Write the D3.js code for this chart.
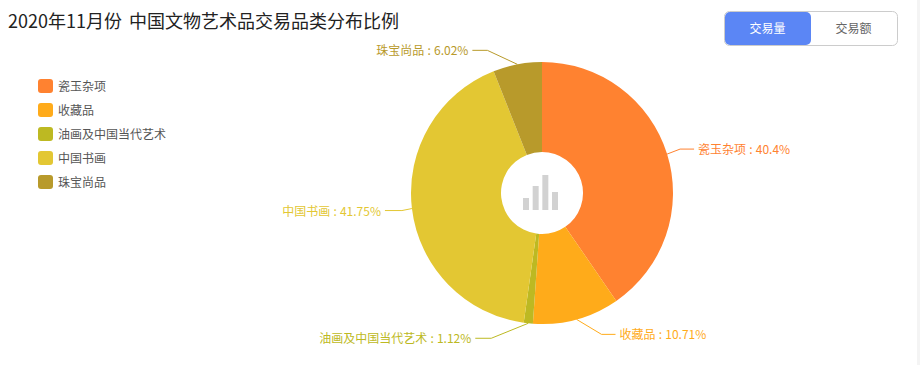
<!DOCTYPE html>
<html>
<head>
<meta charset="utf-8">
<script src="https://cdn.jsdelivr.net/npm/d3@7"></script>
<style>
  html, body { margin: 0; padding: 0; background: #fff; overflow: hidden; }
  text { font-family: "Noto Sans CJK SC", "Noto Sans", sans-serif; }
</style>
</head>
<body>
<svg id="chart" width="920" height="365"></svg>
<script>
const categories = ['瓷玉杂项', '收藏品', '油画及中国当代艺术', '中国书画', '珠宝尚品']
const shares = [40.4, 10.71, 1.12, 41.75, 6.02]
const colors = ['#ff8230', '#ffab1a', '#bdb922', '#e3c733', '#b89a2b']
const buttonLabels = ['交易量', '交易额']
const iconBars = [12, 24, 35, 18]

const width = 920
const height = 365
const cx = 542
const cy = 193
const outerRadius = 131
const innerRadius = 41

// elbow of each leader line, relative to where it leaves the slice
const elbowOffsets = [[13, -5], [25, 15], [-37, 15], [-10, 2], [-30, -14]]
const tailLength = [14, 14, 16, 17, 15]

const svg = d3.select('#chart')

svg.append('rect')
  .attr('x', 917)
  .attr('y', 0)
  .attr('width', width - 917)
  .attr('height', height)
  .attr('fill', '#f4f4f4')

svg.append('text')
  .attr('x', 8)
  .attr('y', 28)
  .attr('fill', '#222')
  .style('font-size', '18px')
  .style('word-spacing', '3px')
  .text('2020年11月份 中国文物艺术品交易品类分布比例')

// Legend
const legendY = d3.scalePoint().domain(categories).range([86, 182])

const legend = svg.append('g')
  .selectAll('g')
  .data(categories)
  .join('g')
  .attr('transform', d => `translate(38,${legendY(d)})`)

legend.append('rect')
  .attr('y', -7)
  .attr('width', 15)
  .attr('height', 14)
  .attr('rx', 3)
  .attr('fill', (d, i) => colors[i])

legend.append('text')
  .attr('x', 20)
  .attr('y', 4.5)
  .attr('fill', '#555')
  .style('font-size', '12px')
  .text(d => d)

// Pie
const pie = d3.pie().sort(null).value(d => d)
const slices = pie(shares)
const arc = d3.arc().innerRadius(innerRadius).outerRadius(outerRadius)
const edge = d3.arc().innerRadius(outerRadius).outerRadius(outerRadius)

const g = svg.append('g').attr('transform', `translate(${cx},${cy})`)

g.selectAll('path.slice')
  .data(slices)
  .join('path')
  .attr('class', 'slice')
  .attr('d', arc)
  .attr('fill', (d, i) => colors[i])

// Leader lines and labels
const line = d3.line()

slices.forEach(function (d, i) {
  const start = edge.centroid(d)
  const elbow = [start[0] + elbowOffsets[i][0], start[1] + elbowOffsets[i][1]]
  const dir = elbowOffsets[i][0] > 0 ? 1 : -1
  const end = [elbow[0] + dir * tailLength[i], elbow[1]]

  g.append('path')
    .attr('d', line([start, elbow, end]))
    .attr('fill', 'none')
    .attr('stroke', colors[i])
    .attr('stroke-width', 1)

  g.append('text')
    .attr('x', end[0] + dir * 4)
    .attr('y', end[1] + 5)
    .attr('text-anchor', dir > 0 ? 'start' : 'end')
    .attr('fill', colors[i])
    .style('font-size', '12px')
    .style('word-spacing', '0.5px')
    .text(`${categories[i]} : ${shares[i]}%`)
})

// Centre icon
const iconX = d3.scaleBand().domain(d3.range(iconBars.length)).range([-19, 16]).paddingInner(0.38).paddingOuter(0)
const iconY = d3.scaleLinear().domain([0, 35]).range([17, -18])

g.append('g')
  .selectAll('rect')
  .data(iconBars)
  .join('rect')
  .attr('x', (d, i) => iconX(i))
  .attr('y', d => iconY(d))
  .attr('width', iconX.bandwidth())
  .attr('height', d => iconY(0) - iconY(d))
  .attr('fill', '#d2d2d2')

// Toggle buttons
const buttons = svg.append('g').attr('transform', 'translate(724.5,11.5)')

buttons.append('rect')
  .attr('width', 173)
  .attr('height', 34)
  .attr('rx', 5)
  .attr('fill', '#fff')
  .attr('stroke', '#ccc')

buttons.append('rect')
  .attr('x', 0.5)
  .attr('y', 0.5)
  .attr('width', 86)
  .attr('height', 33)
  .attr('rx', 5)
  .attr('fill', '#5b86f5')

buttons.selectAll('text')
  .data(buttonLabels)
  .join('text')
  .attr('x', (d, i) => 43 + i * 86)
  .attr('y', 21.5)
  .attr('text-anchor', 'middle')
  .attr('fill', (d, i) => i === 0 ? '#fff' : '#666')
  .style('font-size', '12px')
  .text(d => d)
</script>
</body>
</html>
